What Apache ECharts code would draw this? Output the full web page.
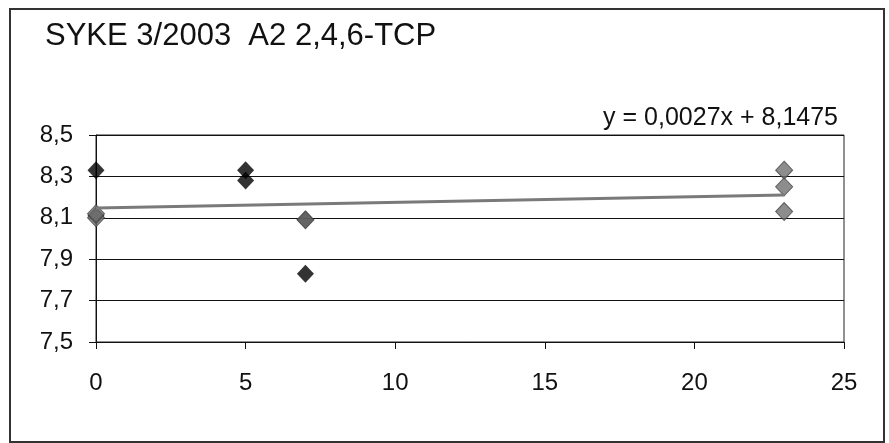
<!DOCTYPE html>
<html>
<head>
<meta charset="utf-8">
<script src="https://cdn.jsdelivr.net/npm/echarts@6/dist/echarts.min.js"></script>
<style>
html,body{margin:0;padding:0;background:#fff;}
#c{width:889px;height:443px;}
</style>
</head>
<body>
<div id="c"></div>
<script>
// ---- data ----
const titleText = 'SYKE 3/2003  A2 2,4,6-TCP';
const xTicks = [0, 5, 10, 15, 20, 25];
const yTicks = ['7,5', '7,7', '7,9', '8,1', '8,3', '8,5'];
// black series: [day, value]
const blackX = [0, 0, 5, 5, 7, 7];
const blackY = [8.33, 8.11, 8.33, 8.28, 8.09, 7.83];
// gray series
const grayX = [0, 0, 7, 23, 23, 23];
const grayY = [8.10, 8.12, 8.09, 8.33, 8.25, 8.13];
// linear trendline shown on chart
const trendSlope = 0.0027;
const trendIntercept = 8.1475;
const trendRange = [0, 23];

const fmt = v => String(v).replace('.', ',');
const eqText = 'y = ' + fmt(trendSlope) + 'x + ' + fmt(trendIntercept);
const pairs = (xs, ys) => xs.map((x, i) => [x, ys[i]]);
const trendData = trendRange.map(x => [x, trendIntercept + trendSlope * x]);

const FONT = '"Liberation Sans", Arial, sans-serif';
const chart = echarts.init(document.getElementById('c'), null, {renderer: 'canvas'});
chart.setOption({
  animation: false,
  backgroundColor: '#fff',
  title: {
    text: titleText, left: 40, top: 16,
    textStyle: {fontSize: 31, fontWeight: 'normal', color: '#111', fontFamily: FONT}
  },
  grid: {
    left: 96, right: 45, top: 135, bottom: 101,
    show: true, borderColor: '#222', borderWidth: 1, backgroundColor: 'transparent'
  },
  xAxis: {
    type: 'value', min: 0, max: 25, interval: 5,
    axisLine: {show: true, lineStyle: {color: '#111', width: 1}},
    axisTick: {show: true, length: 7, lineStyle: {color: '#111'}},
    axisLabel: {margin: 29, fontSize: 24, color: '#111', fontFamily: FONT,
      formatter: v => xTicks.includes(v) ? String(v) : ''},
    splitLine: {show: false}
  },
  yAxis: {
    type: 'value', min: 7.5, max: 8.5, interval: 0.2,
    axisLine: {show: true, lineStyle: {color: '#111', width: 1}},
    axisTick: {show: true, length: 7, lineStyle: {color: '#111'}},
    axisLabel: {margin: 23, fontSize: 24, color: '#111', fontFamily: FONT,
      formatter: v => yTicks[Math.round((v - 7.5) / 0.2)]},
    splitLine: {show: true, lineStyle: {color: '#111', width: 1}}
  },
  graphic: [
    {type: 'rect', shape: {x: 10, y: 9, width: 874, height: 433},
     style: {fill: 'none', stroke: '#333', lineWidth: 2}, silent: true, z: 100},
    {type: 'text', x: 838, y: 106,
     style: {text: eqText, fontSize: 25, fontFamily: FONT, fill: '#111', align: 'right', verticalAlign: 'top'}}
  ],
  series: [
    {type: 'scatter', data: pairs(blackX, blackY), symbol: 'diamond', symbolSize: [17, 18],
     itemStyle: {color: '#000'}, z: 3},
    {type: 'scatter', data: pairs(grayX, grayY), symbol: 'diamond', symbolSize: [17, 18],
     itemStyle: {color: '#707070', borderColor: '#444', borderWidth: 1}, z: 4},
    {type: 'line', data: trendData, symbol: 'none', lineStyle: {color: '#7a7a7a', width: 3}, z: 5}
  ]
});
</script>
</body>
</html>
